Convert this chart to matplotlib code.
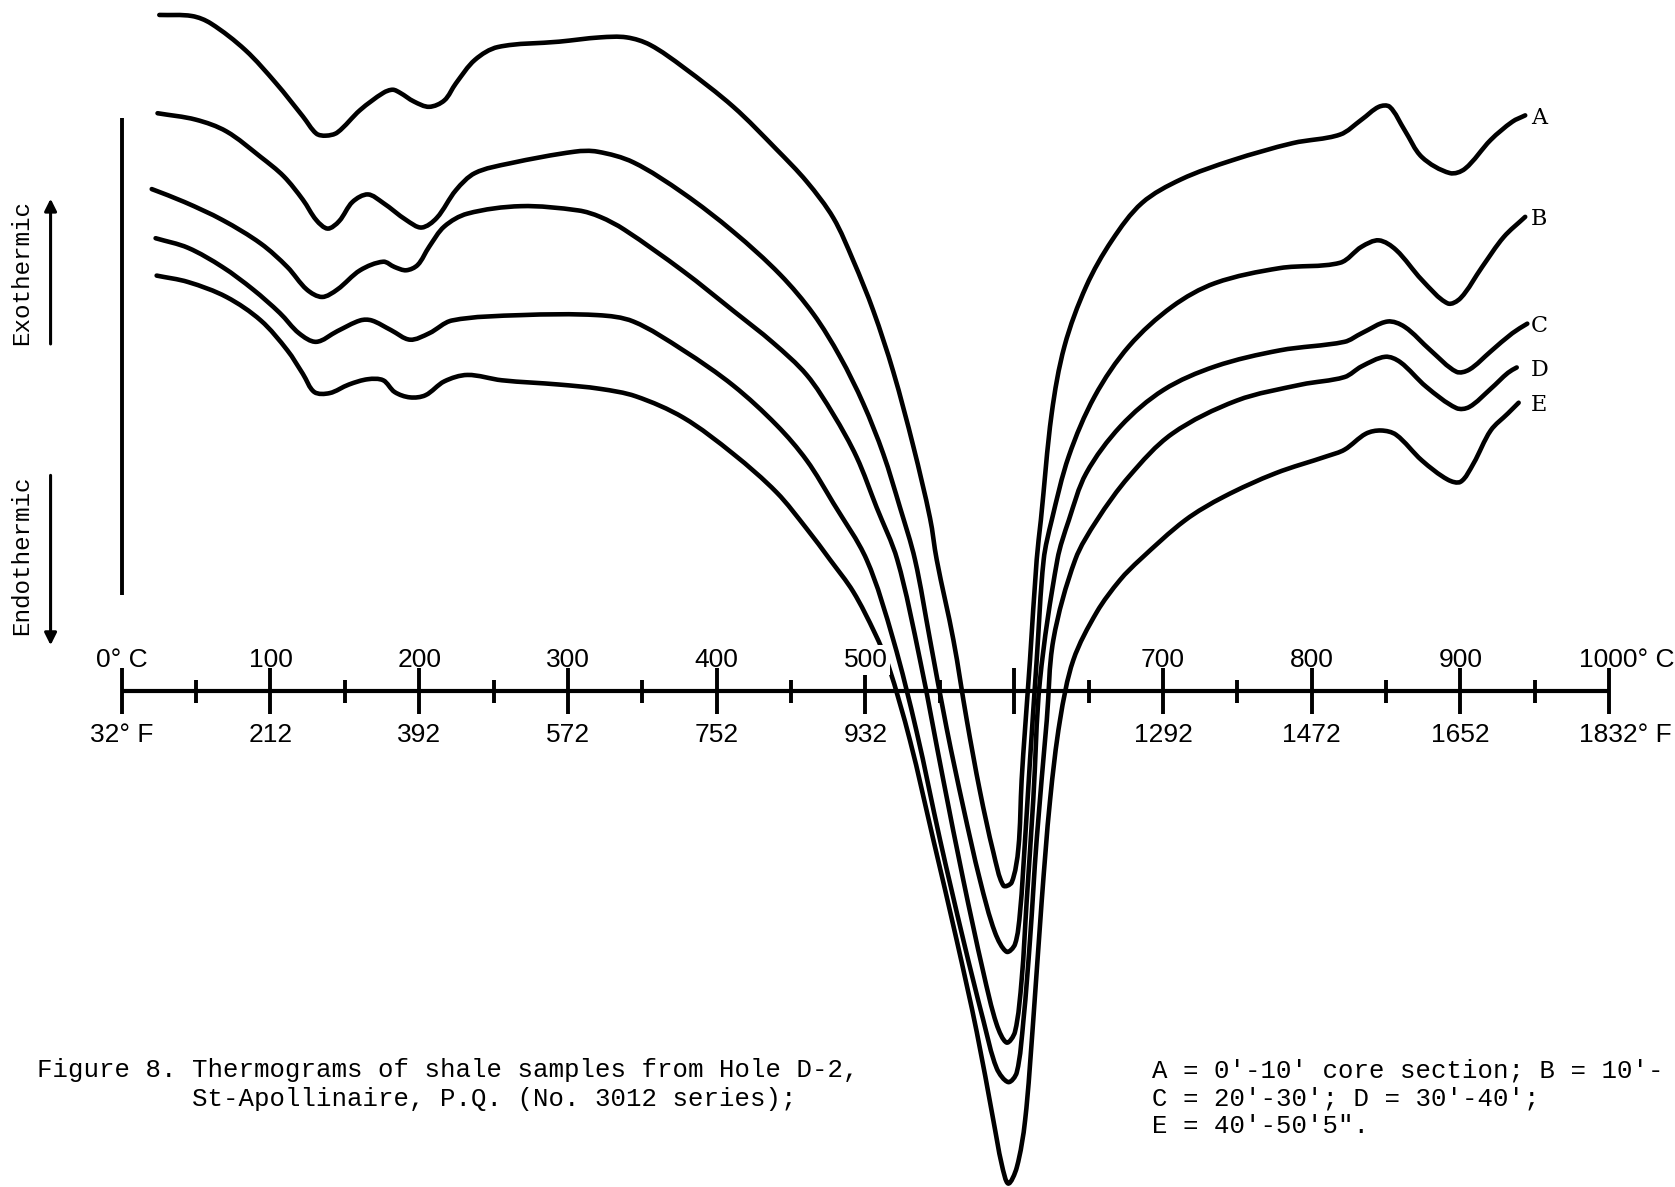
import numpy as np
import matplotlib
matplotlib.use("Agg")
from matplotlib import pyplot as plt
from matplotlib.path import Path
from matplotlib.patches import PathPatch

# DTA thermograms, Hole D-2 shale samples (No. 3012 series)
# x: furnace temperature in deg C, y: differential deflection (arbitrary units, + = exothermic)
temp_a = [25.3, 47.2, 60.0, 83.2, 103.8, 121.8, 130.8, 137.2, 145.0, 160.3,
          175.8, 182.2, 187.3, 196.4, 206.7, 216.9, 224.7, 237.5, 253.0, 294.1,
          321.6, 339.5, 355.2, 377.6, 411.2, 440.3, 460.5, 478.4, 491.8, 505.3,
          518.7, 532.2, 543.4, 547.9, 559.1, 568.1, 577.0, 586.0, 592.7, 598.3,
          602.8, 605.0, 607.3, 610.6, 615.1, 617.9, 625.2, 633.8, 648.4, 665.7,
          685.9, 712.0, 746.7, 787.2, 819.0, 833.5, 845.1, 852.4, 862.5, 874.0,
          892.8, 903.0, 920.3, 934.8, 943.5]
dta_a = [633, 632, 625, 600, 569, 538, 522, 520, 523, 544,
         560, 563, 560, 552, 547, 553, 569, 591, 603, 608,
         612, 612, 605, 584, 547, 507, 477, 443, 403, 356,
         299, 229, 162, 123, 48, -27, -94, -151, -182, -179,
         -147, -83, -35, 29, 123, 160, 260, 323, 379, 422,
         457, 479, 497, 513, 521, 535, 547, 547, 525, 500,
         485, 489, 516, 533, 539]

temp_b = [24.1, 49.8, 70.4, 93.5, 108.9, 121.8, 130.8, 138.5, 146.2, 155.2,
          165.5, 175.8, 191.3, 201.6, 211.8, 224.7, 237.5, 260.7, 304.5, 319.9,
          344.0, 377.6, 411.2, 442.6, 465.0, 482.9, 498.6, 512.0, 523.2,
          533.3, 543.4, 554.6, 565.8, 577.0, 587.1, 594.9, 600.5, 603.9, 607.3,
          610.6, 615.1, 619.8, 625.2, 636.7, 654.1, 677.2, 706.2, 735.1, 778.5,
          819.0, 833.5, 845.1, 856.7, 874.0, 891.4, 900.1, 914.5, 929.0, 943.5]
dta_b = [541, 535, 524, 500, 482, 460, 441, 433, 440, 458,
         465, 457, 441, 434, 443, 469, 485, 494, 505, 505,
         495, 466, 430, 390, 353, 313, 269, 222, 172,
         123, 48, -35, -109, -177, -226, -244, -237, -207, -139,
         -65, 29, 123, 160, 220, 276, 323, 360, 382, 396,
         401, 416, 422, 413, 385, 363, 368, 397, 425, 444]

temp_c = [20.2, 42.0, 67.8, 93.5, 111.4, 124.4, 134.7, 145.0, 160.3, 175.8,
          183.5, 191.3, 199.0, 206.7, 216.9, 232.4, 268.4, 307.0, 321.6, 337.9,
          377.6, 411.2, 438.0, 460.5, 478.4, 494.1, 507.5, 521.4, 536.7,
          552.3, 565.8, 579.2, 588.2, 594.9, 600.5, 605.0, 608.4, 612.8, 617.3,
          629.0, 636.7, 648.4, 671.5, 700.4, 735.1, 778.5, 822.0, 833.5, 850.9,
          862.5, 879.9, 897.2, 905.9, 920.3, 934.8, 944.9]
dta_c = [470, 458, 441, 419, 397, 376, 369, 376, 394, 402,
         397, 394, 399, 416, 435, 447, 454, 450, 444, 432,
         393, 356, 326, 296, 259, 219, 172, 123, 29,
         -83, -177, -263, -312, -329, -319, -270, -196, -102, 10,
         123, 160, 204, 248, 282, 304, 319, 327, 335, 346,
         341, 319, 299, 301, 318, 335, 344]

temp_d = [22.8, 44.6, 67.8, 88.3, 106.3, 119.2, 130.8, 145.0, 160.3, 168.1,
          181.0, 193.8, 206.7, 222.1, 268.4, 319.9, 344.0, 377.6, 411.2, 440.3,
          460.5, 478.4, 500.8, 518.7, 534.4, 550.1, 565.8, 579.2, 588.2, 596.0,
          601.7, 606.2, 610.6, 615.1, 621.9, 626.3, 641.0, 655.6, 677.2,
          706.2, 749.6, 793.0, 822.0, 833.5, 849.4, 859.5, 876.9, 897.2, 905.9,
          920.3, 931.9, 937.8]
dta_d = [424, 415, 397, 376, 354, 335, 327, 337, 347, 347,
         338, 329, 335, 347, 352, 352, 346, 319, 286, 249,
         216, 176, 123, 48, -38, -139, -233, -308, -353, -366,
         -357, -308, -233, -139, -27, 48, 123, 160, 201,
         241, 272, 287, 294, 304, 313, 308, 285, 265, 266,
         283, 298, 303]

temp_e = [23.5, 44.6, 70.4, 93.5, 111.4, 121.8, 129.5, 139.8, 152.7, 165.5,
          175.8, 183.5, 193.8, 204.2, 216.9, 232.4, 255.6, 294.1, 321.6, 345.6,
          377.6, 411.2, 440.3, 460.5, 476.2, 491.8, 506.4, 515.4, 529.9, 545.6,
          561.3, 574.8, 586.0, 591.6, 596.0, 601.7, 607.3, 612.8, 618.5, 624.1,
          630.8, 639.7, 655.5, 671.1, 684.5, 714.9, 740.9, 775.7, 810.4, 822.0,
          836.4, 846.6, 856.7, 874.0, 891.4, 900.1, 908.7, 920.3, 931.9, 939.1]
dta_e = [389, 383, 369, 347, 319, 297, 280, 279, 287, 292,
         291, 280, 275, 277, 290, 296, 291, 287, 283, 276,
         256, 222, 186, 152, 123, 93, 54, 24, -46, -139,
         -233, -319, -402, -443, -461, -446, -402, -308, -196, -102,
         -27, 29, 74, 104, 123, 160, 182, 204, 220, 226,
         241, 244, 240, 216, 198, 196, 213, 244, 260, 270]

sample_names = ["A", "B", "C", "D", "E"]

# temperature scale
celsius_ticks = [0, 100, 200, 300, 400, 500, 700, 800, 900, 1000]
celsius_text = ["0° C", "100", "200", "300", "400", "500", "700", "800", "900", "1000° C"]
fahrenheit_text = ["32° F", "212", "392", "572", "752", "932", "1292", "1472", "1652", "1832° F"]

caption_left = ["Figure 8. Thermograms of shale samples from Hole D-2,",
                "          St-Apollinaire, P.Q. (No. 3012 series);"]
caption_right = ["A = 0'-10' core section; B = 10'-",
                 "C = 20'-30'; D = 30'-40';",
                 "E = 40'-50'5\"."]

W, H = 1675, 1187
fig = plt.figure(figsize=(W / 100, H / 100), dpi=100)
ax = fig.add_axes([0, 0, 1, 1])
ax.set_xlim(-81.8, 1044.2)
ax.set_ylim(-464.2, 647)
ax.axis("off")

num_font = ["Liberation Sans", "DejaVu Sans"]
mono_font = ["Liberation Mono", "DejaVu Sans Mono"]
letter_font = ["DejaVu Serif"]


def smooth_path(t, s):
    # pen-drawn look: cubic Bezier through every reading, tangents from neighbours
    p = np.column_stack([t, s]).astype(float)
    px = ax.transData.transform(p)
    seg = np.hypot(*np.diff(px, axis=0).T)
    m = np.zeros_like(p)
    m[1:-1] = (p[2:] - p[:-2]) / (seg[:-1] + seg[1:])[:, None]
    m[0] = (p[1] - p[0]) / seg[0]
    m[-1] = (p[-1] - p[-2]) / seg[-1]
    verts = [p[0]]
    codes = [Path.MOVETO]
    for i in range(len(p) - 1):
        verts += [p[i] + m[i] * seg[i] / 3, p[i + 1] - m[i + 1] * seg[i] / 3, p[i + 1]]
        codes += [Path.CURVE4] * 3
    return Path(verts, codes)


curves = [(temp_a, dta_a), (temp_b, dta_b), (temp_c, dta_c), (temp_d, dta_d), (temp_e, dta_e)]
for name, (t, s) in zip(sample_names, curves):
    ax.add_patch(PathPatch(smooth_path(t, s), facecolor="none", edgecolor="black",
                           lw=3.3, capstyle="round", joinstyle="round", zorder=3))
    ax.text(953, s[-1] - 2, name, ha="center", va="center",
            fontsize=16, family=letter_font, zorder=5)

# baseline with major and minor ticks
ax.plot([0, 1000], [0, 0], color="black", lw=3.0, zorder=2, solid_capstyle="butt")
ax.vlines(range(0, 1001, 100), -21.5, 21.5, color="black", lw=2.8, zorder=2)
ax.vlines(range(50, 1000, 100), -10.8, 10.8, color="black", lw=2.8, zorder=2)

for c, ctxt, ftxt in zip(celsius_ticks, celsius_text, fahrenheit_text):
    if c == 1000:
        kw = dict(ha="left")
        x = 980
    else:
        kw = dict(ha="center")
        x = c
    top = ax.text(x, 29, ctxt, va="center", fontsize=19, family=num_font, zorder=4, **kw)
    ax.text(x, -41, ftxt, va="center", fontsize=19, family=num_font, zorder=4, **kw)
    if c == 500:
        top.set_bbox(dict(facecolor="white", edgecolor="none", pad=2))

# exothermic / endothermic indicator
ax.plot([0, 0], [90, 537], color="black", lw=2.8, solid_capstyle="butt")
arrow = dict(arrowstyle="-|>", color="black", lw=2.2, mutation_scale=18, shrinkA=0, shrinkB=0)
ax.annotate("", xy=(-47.8, 461), xytext=(-47.8, 325), arrowprops=arrow)
ax.annotate("", xy=(-47.8, 43), xytext=(-47.8, 202), arrowprops=arrow)
ax.text(-67.2, 392, "Exothermic", rotation=90, ha="center", va="center",
        fontsize=17.5, family=mono_font)
ax.text(-67.2, 127, "Endothermic", rotation=90, ha="center", va="center",
        fontsize=17.5, family=mono_font)

for i, line in enumerate(caption_left):
    fig.text(37 / W, 1 - (1070 + 29 * i) / H, line, ha="left", va="center",
             fontsize=18.5, family=mono_font)
for i, line in enumerate(caption_right):
    fig.text(1152 / W, 1 - (1070 + 28 * i) / H, line, ha="left", va="center",
             fontsize=18.5, family=mono_font)

fig.savefig("out.png", dpi=100, facecolor="white")
